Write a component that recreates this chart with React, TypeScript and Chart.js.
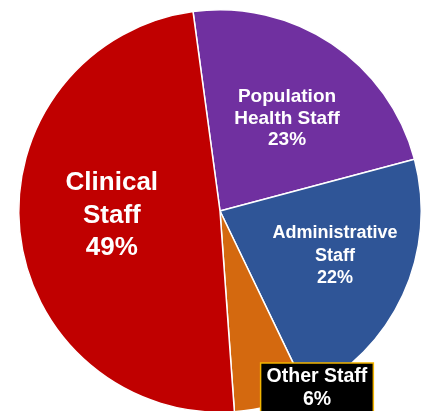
import React, { useEffect, useRef } from "react";
import { Chart, registerables } from "chart.js";

Chart.register(...registerables);

// Categories (clockwise from top), label lines and values (%)
const categories = ["Population Health Staff", "Administrative Staff", "Other Staff", "Clinical Staff"];
const labelLines = [["Population", "Health Staff"], ["Administrative", "Staff"], ["Other Staff"], ["Clinical", "Staff"]];
const values = [23, 22, 6, 49];
const colors = ["#7030A0", "#2F5597", "#D4690F", "#C00000"];

// label styling
const labelFontSize = [19, 18, 19.5, 26];
const labelLineHeight = [21.5, 22.5, 23, 32.5];
const labelRadiusFrac = [0.568, 0.613, 1.005, 0.538];
const labelAngleShift = [2.2, -3.5, -13.75, 3.5];
const labelBoxed = [false, false, true, false];

const labelPlugin = {
  id: "sliceLabels",
  afterDatasetsDraw(chart: any) {
    const ctx = chart.ctx as CanvasRenderingContext2D;
    const meta = chart.getDatasetMeta(0);
    const total = values.reduce((a, b) => a + b, 0);
    meta.data.forEach((arc: any, i: number) => {
      const p = arc.getProps(["x", "y", "startAngle", "endAngle", "outerRadius"], true);
      const mid = (p.startAngle + p.endAngle) / 2 + (labelAngleShift[i] * Math.PI) / 180;
      const cx = p.x + Math.cos(mid) * p.outerRadius * labelRadiusFrac[i];
      const cy = p.y + Math.sin(mid) * p.outerRadius * labelRadiusFrac[i];
      const lines = [...labelLines[i], Math.round((values[i] / total) * 100) + "%"];
      const lh = labelLineHeight[i];
      ctx.save();
      ctx.font = `bold ${labelFontSize[i]}px "Liberation Sans", Arial, sans-serif`;
      ctx.textAlign = "center";
      ctx.textBaseline = "middle";
      const top = cy - (lh * (lines.length - 1)) / 2;
      if (labelBoxed[i]) {
        const w = Math.max(...lines.map((l) => ctx.measureText(l).width)) + 12;
        const h = lh * lines.length + 14;
        const bx = cx - w / 2;
        const by = top - 14;
        ctx.fillStyle = "#000000";
        ctx.fillRect(bx, by, w, h);
        ctx.strokeStyle = "#F2B400";
        ctx.lineWidth = 1.5;
        ctx.strokeRect(bx, by, w, h);
      }
      ctx.fillStyle = "#FFFFFF";
      lines.forEach((l, k) => ctx.fillText(l, cx, top + k * lh));
      ctx.restore();
    });
  },
};

export default function App() {
  const ref = useRef<HTMLCanvasElement | null>(null);
  useEffect(() => {
    if (!ref.current) return;
    const chart = new Chart(ref.current, {
      type: "pie",
      data: {
        labels: categories,
        datasets: [
          {
            data: values,
            backgroundColor: colors,
            borderColor: "#FFFFFF",
            borderWidth: 1.5,
          },
        ],
      },
      options: {
        animation: false,
        responsive: true,
        maintainAspectRatio: false,
        rotation: -7.7,
        layout: { padding: { left: 18, right: 18, top: 9, bottom: 9 } },
        plugins: {
          legend: { display: false },
          tooltip: { enabled: false },
        },
      },
      plugins: [labelPlugin],
    });
    return () => chart.destroy();
  }, []);
  return (
    <div style={{ position: "fixed", left: 0, top: 0, width: 422, height: 411, overflow: "hidden", background: "#fff" }}>
      <div style={{ position: "relative", width: 440, height: 422 }}>
        <canvas ref={ref} />
      </div>
    </div>
  );
}
